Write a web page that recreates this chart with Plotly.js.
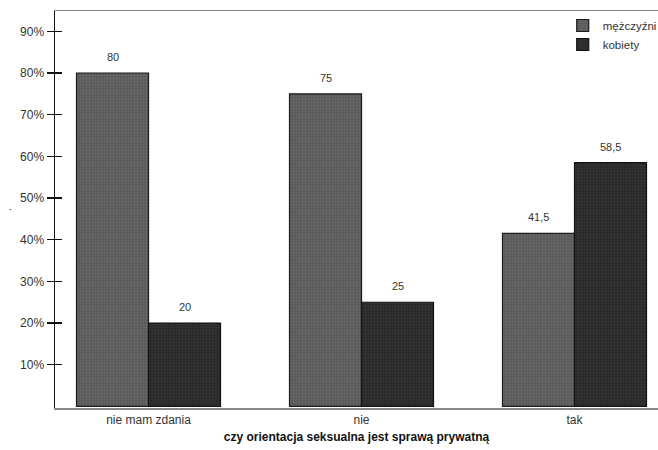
<!DOCTYPE html>
<html>
<head>
<meta charset="utf-8">
<script src="https://cdn.plot.ly/plotly-3.0.1.min.js"></script>
<style>html,body{margin:0;padding:0;background:#fff;}#chart{width:658px;height:450px;}</style>
</head>
<body>
<div id="chart"></div>
<script>
const categories = ["nie mam zdania", "nie", "tak"];
const seriesNames = ["mężczyźni", "kobiety"];
const menValues = [80, 75, 41.5];
const womenValues = [20, 25, 58.5];
const yTickVals = [10, 20, 30, 40, 50, 60, 70, 80, 90];
const yTickText = ["10%", "20%", "30%", "40%", "50%", "60%", "70%", "80%", "90%"];
const xTitle = "czy orientacja seksualna jest sprawą prywatną";
const yTitle = ".";

const fmt = v => String(v).replace('.', ',');
const font = "Liberation Sans, Arial, sans-serif";

const traces = [
  {
    type: 'bar', name: seriesNames[0], x: categories, y: menValues,
    marker: {color: '#5e5e5e', line: {color: '#1a1a1a', width: 1.2},
             pattern: {shape: '.', fgcolor: '#6e6e6e', bgcolor: '#5a5a5a', size: 3, solidity: 0.3}}
  },
  {
    type: 'bar', name: seriesNames[1], x: categories, y: womenValues,
    marker: {color: '#2c2c2c', line: {color: '#111', width: 1.2},
             pattern: {shape: '.', fgcolor: '#3a3a3a', bgcolor: '#282828', size: 3, solidity: 0.3}}
  },
  {
    type: 'scatter', x: [categories[0]], y: [0], yaxis: 'y2', mode: 'markers',
    marker: {opacity: 0}, showlegend: false, hoverinfo: 'skip'
  }
];

const annotations = [];
categories.forEach((c, i) => {
  [[menValues, -36], [womenValues, 36]].forEach(([vals, dx]) => {
    annotations.push({
      x: c, y: vals[i], xref: 'x', yref: 'y', text: fmt(vals[i]),
      showarrow: false, xshift: dx, yshift: 8, yanchor: 'bottom',
      font: {size: 11, color: '#333', family: font}
    });
  });
});

const yRange = [-0.38, 94.88];

const layout = {
  width: 658, height: 450,
  margin: {l: 55, r: 0, t: 11, b: 42, autoexpand: false},
  paper_bgcolor: '#fff', plot_bgcolor: '#fff',
  font: {family: font, color: '#333', size: 12},
  barmode: 'group', bargap: 0.324, bargroupgap: 0,
  annotations: annotations,
  xaxis: {
    type: 'category', range: [-0.439, 2.392], automargin: false,
    showline: true, linecolor: '#888', linewidth: 1.5, mirror: true,
    ticks: '', showgrid: false, zeroline: false,
    tickfont: {size: 12, color: '#333'},
    title: {text: xTitle, font: {size: 12, color: '#111', family: font, weight: 'bold'}, standoff: 6}
  },
  yaxis: {
    range: yRange, tickmode: 'array', tickvals: yTickVals, ticktext: yTickText, automargin: false,
    showline: true, linecolor: '#111', linewidth: 1.5,
    ticks: 'outside', ticklen: 7, tickcolor: '#111', tickwidth: 1.5,
    showgrid: false, zeroline: false,
    tickfont: {size: 12, color: '#333'},
    title: {text: yTitle, font: {size: 12, color: '#555'}, standoff: 30}
  },
  yaxis2: {
    overlaying: 'y', range: yRange, tickmode: 'array', tickvals: yTickVals, automargin: false,
    ticks: 'inside', ticklen: 7, tickcolor: '#111', tickwidth: 1.5,
    showticklabels: false, showgrid: false, zeroline: false, showline: false
  },
  showlegend: true,
  legend: {
    x: 0.842, y: 1.0, xanchor: 'left', yanchor: 'top',
    bgcolor: 'rgba(0,0,0,0)', font: {size: 11.5, color: '#333'},
    tracegroupgap: 0, itemwidth: 30
  }
};

Plotly.newPlot('chart', traces, layout, {displayModeBar: false, staticPlot: true});
</script>
</body>
</html>
